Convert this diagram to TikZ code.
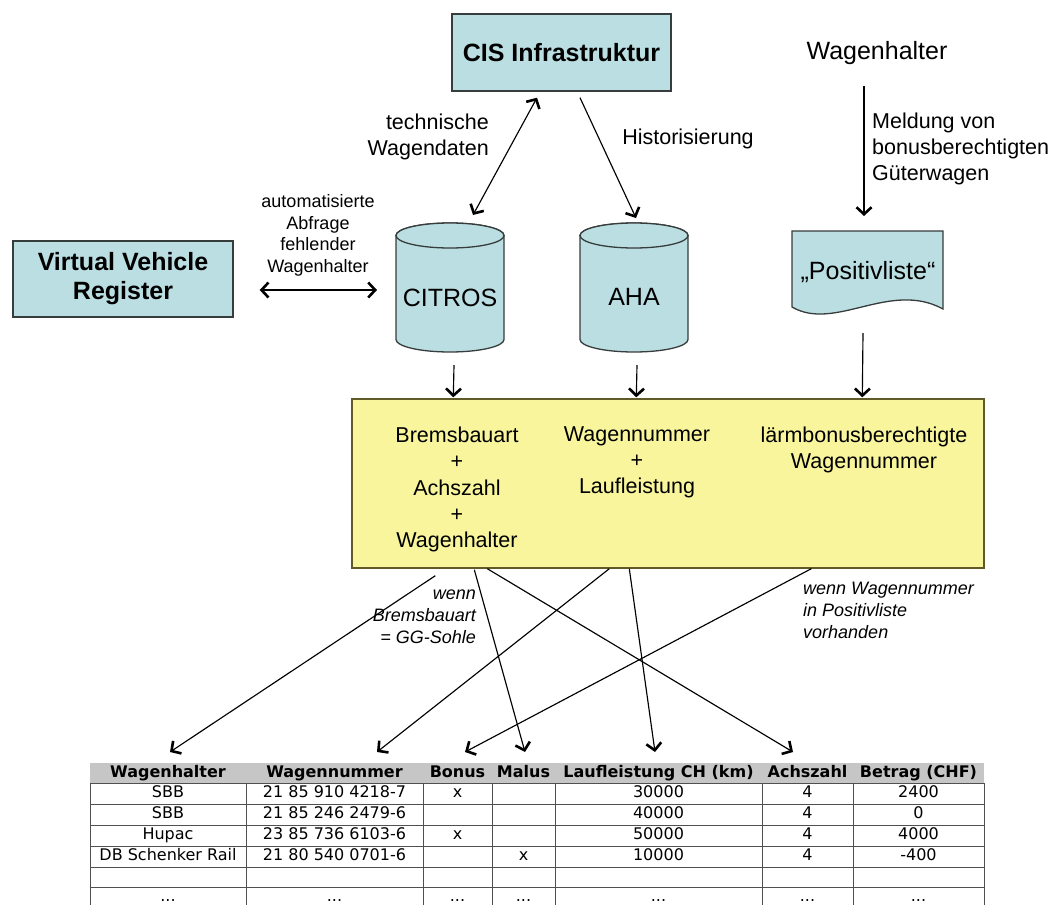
\documentclass[tikz,border=0pt]{standalone}
\usepackage{fontspec}
\setmainfont{Liberation Sans}
\newfontfamily\gridfont{DejaVu Sans}
\usetikzlibrary{arrows.meta,calc}

\definecolor{panelblue}{RGB}{186,222,226}
\definecolor{panelyellow}{RGB}{248,245,156}
\definecolor{panelline}{RGB}{55,60,60}
\definecolor{yellowline}{RGB}{95,90,40}
\definecolor{headgray}{RGB}{198,198,198}
\definecolor{gridline}{RGB}{80,80,80}

\tikzset{
  panel/.style={draw=panelline, fill=panelblue, line width=1.4pt, inner sep=0pt},
  boxtitle/.style={font=\fontsize{25}{29}\selectfont\bfseries, align=center},
  bigtext/.style={font=\fontsize{25}{29}\selectfont, inner sep=0pt},
  lbl/.style={font=\fontsize{21.5}{26}\selectfont, inner sep=0pt},
  boxtext/.style={font=\fontsize{21.5}{26.25}\selectfont, inner sep=0pt, align=center},
  lblsmall/.style={font=\fontsize{18}{21.5}\selectfont, inner sep=0pt, align=center},
  cond/.style={font=\fontsize{18}{22}\selectfont\itshape, inner sep=0pt},
  drum/.style={draw=panelline, fill=panelblue, line width=1.3pt},
  tip/.tip={Straight Barb[length=7pt,width=15pt,line width=2.6pt]},
  flow/.style={line width=1.15pt, -tip},
  biflow/.style={line width=1.15pt, tip-tip},
  cell/.style={font=\gridfont\fontsize{16}{18}\selectfont, inner sep=0pt, text height=11.5pt, text depth=3pt},
  headcell/.style={font=\gridfont\bfseries\fontsize{16}{18}\selectfont, inner sep=0pt, text height=11.5pt, text depth=3pt},
  hollow/.style={inner sep=0pt, outer sep=0pt},
}

% database drum drawn around an empty node
\newcommand{\drawdrum}[1]{%
  \filldraw[drum] ($(#1.north west)+(0,12.5)$) -- ($(#1.south west)+(0,-12.5)$)
     arc[start angle=180,end angle=0,x radius=54,y radius=12.5]
     -- ($(#1.north east)+(0,12.5)$)
     arc[start angle=0,end angle=-180,x radius=54,y radius=12.5] -- cycle;
  \draw[drum] ($(#1.north)+(0,12.5)$) ellipse[x radius=54, y radius=12.5];}

% one data row of the result table
\newcommand{\gridrow}[9]{%
  \node[cell] (#2a) at (168,#1) {#3};
  \node[cell] (#2b) at (334.5,#1) {#4};
  \node[cell] (#2c) at (457.5,#1) {#5};
  \node[cell] (#2d) at (523.5,#1) {#6};
  \node[cell] (#2e) at (658.5,#1) {#7};
  \node[cell] (#2f) at (807.5,#1) {#8};
  \node[cell] (#2g) at (918.5,#1) {#9};}

\begin{document}
\begin{tikzpicture}[x=1pt, y=-1pt]
  \useasboundingbox (0,0) rectangle (1051,905);
  \fill[white] (0,0) rectangle (1051,905);

  % sources
  \node[panel, boxtitle, minimum width=219, minimum height=77] (cis) at (561.5,52.5) {CIS Infrastruktur};
  \node[panel, boxtitle, minimum width=220, minimum height=76] (vvr) at (123,279) {Virtual Vehicle\\Register};
  \node[bigtext] (holder) at (877,53) {Wagenhalter};

  % databases
  \node[hollow, minimum width=108, minimum height=129] (citros) at (450,287.5) {};
  \node[hollow, minimum width=108, minimum height=129] (aha) at (634,287.5) {};
  \drawdrum{citros}
  \drawdrum{aha}
  \node[bigtext] (citroslbl) at (450,298) {CITROS};
  \node[bigtext] (ahalbl) at (634,297) {AHA};

  % document
  \node[hollow, minimum width=151, minimum height=78] (pos) at (867.5,270) {};
  \filldraw[drum] (pos.north west) -- (pos.north east) -- (pos.south east)
     .. controls ($(pos.south east)+(-53,-29)$) and ($(pos.south west)+(43,23)$) .. ($(pos.south west)+(0,-2)$) -- cycle;
  \node[bigtext] (poslbl) at (868,272) {„Positivliste“};

  % edge labels
  \node[lbl, align=right, anchor=east] (techlbl) at (489,137) {technische\\Wagendaten};
  \node[lbl] (histlbl) at (688,139) {Historisierung};
  \node[lbl, align=left, anchor=west] (meldlbl) at (872,149) {Meldung von\\bonusberechtigten\\Güterwagen};
  \node[lblsmall] (autolbl) at (318,235.5) {automatisierte\\Abfrage\\fehlender\\Wagenhalter};

  % collected data
  \node[draw=yellowline, fill=panelyellow, line width=1.4pt, inner sep=0pt,
        minimum width=632, minimum height=169] (ybox) at (668,483.5) {};
  \node[boxtext] (bremslbl) at (457,489.5) {Bremsbauart\\+\\Achszahl\\+\\Wagenhalter};
  \node[boxtext] (wnlbl) at (637,462.5) {Wagennummer\\+\\Laufleistung};
  \node[boxtext] (laermlbl) at (864,450) {lärmbonusberechtigte\\Wagennummer};

  \node[cond, align=right, anchor=east] (cond1) at (476,616.5) {wenn\\Bremsbauart\\= GG-Sohle};
  \node[cond, align=left, anchor=west] (cond2) at (803,610) {wenn Wagennummer\\in Positivliste\\vorhanden};

  % result table
  \node[hollow, anchor=north west, minimum width=894, minimum height=145] (tbl) at (90,763) {};
  \fill[headgray] (tbl.north west) rectangle ($(tbl.north east)+(0,20)$);
  \foreach \yy in {783,804,825,846,867,887}
    \draw[gridline, line width=1pt] (90,\yy) -- (984,\yy);
  \foreach \xx in {90,246,423,492,555.5,762,853,984}
    \draw[gridline, line width=1pt] (\xx,783) -- (\xx,905);

  \node[headcell] (h1) at (168,773) {Wagenhalter};
  \node[headcell] (h2) at (334.5,773) {Wagennummer};
  \node[headcell] (h3) at (457.5,773) {Bonus};
  \node[headcell] (h4) at (523.5,773) {Malus};
  \node[headcell] (h5) at (658.5,773) {Laufleistung CH (km)};
  \node[headcell] (h6) at (807.5,773) {Achszahl};
  \node[headcell] (h7) at (918.5,773) {Betrag (CHF)};

  \gridrow{793.5}{ra}{SBB}{21 85 910 4218-7}{x}{}{30000}{4}{2400}
  \gridrow{814.5}{rb}{SBB}{21 85 246 2479-6}{}{}{40000}{4}{0}
  \gridrow{835.5}{rc}{Hupac}{23 85 736 6103-6}{x}{}{50000}{4}{4000}
  \gridrow{856.5}{rd}{DB Schenker Rail}{21 80 540 0701-6}{}{x}{10000}{4}{-400}
  \gridrow{897.5}{rf}{...}{...}{...}{...}{...}{...}{...}

  % connectors, upper part
  \draw[biflow] ($(cis.south)+(-24.5,6)$) -- ($(citros.north)+(23,-8)$);
  \draw[flow] ($(cis.south)+(18.5,6)$) -- ($(aha.north)+(2,-5)$);
  \draw[flow] ($(holder.south)+(-13,21)$) -- ($(pos.north)+(-3.5,-15)$);
  \draw[biflow] ($(vvr.east)+(26,11)$) -- ($(citros.west)+(-19,2.5)$);
  \draw[flow] ($(citros.south)+(4,13)$) -- ($(ybox.north west)+(102,-1)$);
  \draw[flow] ($(aha.south)+(3,13)$) -- ($(ybox.north west)+(285,-1)$);
  \draw[flow] ($(pos.south)+(-4.5,24)$) -- ($(ybox.north west)+(511,-1)$);

  % connectors, into the table
  \draw[flow] ($(ybox.south west)+(84,7)$) -- ($(tbl.north west)+(80,-11)$);
  \draw[flow] ($(ybox.south west)+(123,1)$) -- ($(tbl.north west)+(435,-11)$);
  \draw[flow] ($(ybox.south west)+(136,0)$) -- ($(tbl.north west)+(703,-11)$);
  \draw[flow] ($(ybox.south west)+(258,0)$) -- ($(tbl.north west)+(287,-11)$);
  \draw[flow] ($(ybox.south west)+(278,0)$) -- ($(tbl.north west)+(565,-11)$);
  \draw[flow] ($(ybox.south west)+(460,0)$) -- ($(tbl.north west)+(375,-11)$);
\end{tikzpicture}
\end{document}
